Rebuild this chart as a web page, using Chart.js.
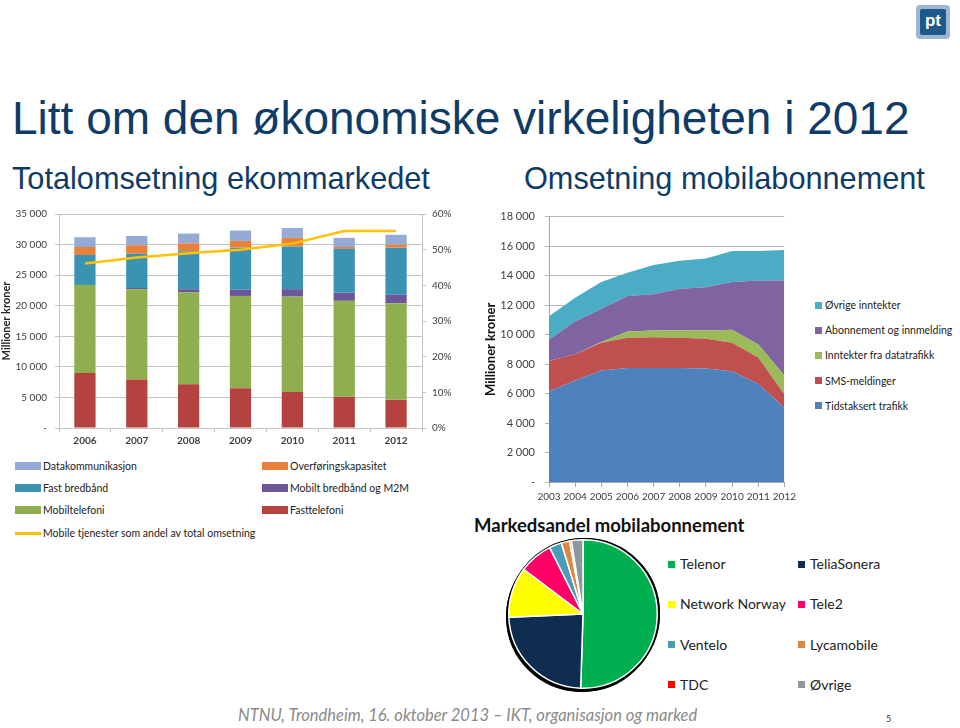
<!DOCTYPE html>
<html>
<head>
<meta charset="utf-8">
<script src="https://cdn.jsdelivr.net/npm/chart.js@4/dist/chart.umd.min.js"></script>
<style>
  body { margin: 0; background: #fff; }
  #slide { position: relative; width: 960px; height: 728px; overflow: hidden; font-family: Lato, sans-serif; color: #222; }
  .abs { position: absolute; white-space: nowrap; line-height: 1; }
  .head { font-family: 'Liberation Sans', Arial, sans-serif; color: #0f3b66; }
  canvas { position: absolute; }
  .leg { position: absolute; display: flex; align-items: center; white-space: nowrap; height: 16px; line-height: 16px; }
  .leg i { display: inline-block; flex: none; }
  #logo { position: absolute; left: 916px; top: 5px; width: 34px; height: 34px; border-radius: 4px; background: #9db6d6; }
  #logo div { position: absolute; left: 4px; top: 4px; width: 26px; height: 26px; border-radius: 2px; background: #1d5a8a;
    color: #fff; font: bold 17px 'Liberation Sans', Arial, sans-serif; text-align: center; line-height: 24px; }
</style>
</head>
<body>
<div id="slide">
  <div id="logo"><div>pt</div></div>

  <div class="abs head" style="left:12px; top:95px; font-size:46px;">Litt om den økonomiske virkeligheten i 2012</div>
  <div class="abs head" style="left:12px; top:164px; font-size:30.7px;">Totalomsetning ekommarkedet</div>
  <div class="abs head" style="left:524px; top:164px; font-size:30.7px;">Omsetning mobilabonnement</div>

  <canvas id="bars" width="460" height="250" style="left:0; top:200px;"></canvas>
  <div id="barLegend"></div>

  <canvas id="areas" width="320" height="310" style="left:480px; top:200px;"></canvas>
  <div id="areaLegend"></div>

  <div class="abs" style="left:474px; top:516px; font-size:18.5px; font-weight:bold; color:#111;">Markedsandel mobilabonnement</div>
  <canvas id="pie" width="160" height="160" style="left:503px; top:534px; filter: drop-shadow(-2px 3px 0 #000) drop-shadow(2px 0 0 #000) drop-shadow(0 -1px 0 #000);"></canvas>
  <div id="pieLegend"></div>

  <div class="abs" style="left:238px; top:707px; font-size:16.5px; font-style:italic; color:#8a8a8a;">NTNU, Trondheim, 16. oktober 2013 – IKT, organisasjon og marked</div>
  <div class="abs" style="left:886px; top:714px; font-size:9px; color:#333;">5</div>
</div>

<script>
// --- Totalomsetning ekommarkedet (millioner kroner) ---
const years = ['2006', '2007', '2008', '2009', '2010', '2011', '2012'];
const fasttelefoni = [9000, 7950, 7150, 6500, 5900, 5100, 4600];
const mobiltelefoni = [14400, 14750, 15050, 15100, 15600, 15700, 15800];
const mobiltBredband = [0, 200, 500, 1000, 1200, 1300, 1400];
const fastBredband = [4900, 5600, 6200, 6900, 7000, 7200, 7700];
const overforing = [1300, 1400, 1300, 1100, 1400, 300, 500];
const datakom = [1600, 1500, 1600, 1700, 1600, 1500, 1600];
const mobilAndel = [46.1, 47.8, 49.0, 50.0, 51.7, 55.2, 55.2]; // prosent

// --- Omsetning mobilabonnement (millioner kroner) ---
const aar = ['2003', '2004', '2005', '2006', '2007', '2008', '2009', '2010', '2011', '2012'];
const tidstaksert = [6150, 6890, 7560, 7730, 7730, 7730, 7690, 7510, 6670, 5040];
const sms = [2050, 1780, 1880, 2050, 2090, 2050, 2020, 1930, 1770, 890];
const datatrafikk = [0, 0, 60, 420, 450, 510, 560, 890, 890, 1290];
const abonnement = [1450, 2230, 2230, 2420, 2460, 2810, 2930, 3230, 4340, 6450];
const ovrigeInntekter = [1600, 1600, 1830, 1580, 1980, 1900, 1960, 2110, 2000, 2060];

// --- Markedsandel mobilabonnement (prosent) ---
const operatorer = ['Telenor', 'TeliaSonera', 'Network Norway', 'Tele2', 'Ventelo', 'Lycamobile', 'TDC', 'Øvrige'];
const andeler = [50.5, 23.8, 11.0, 7.3, 2.7, 1.8, 0.4, 2.5];
const pieColors = ['#00b050', '#0e2d50', '#ffff00', '#ff0066', '#4a9bb5', '#e0873f', '#ff0000', '#8e969e'];

Chart.defaults.font.family = "Lato, 'Liberation Sans', sans-serif";
Chart.defaults.color = '#404040';

const kr = v => v === 0 ? '-' : String(v).replace(/\B(?=(\d{3})+(?!\d))/g, ' ');
const gridGray = '#c4c4c4';

// left chart: stacked bars + share line
const barChart = new Chart(document.getElementById('bars'), {
  type: 'bar',
  data: {
    labels: years,
    datasets: [
      { type: 'line', label: 'Mobile tjenester som andel av total omsetning', data: mobilAndel, yAxisID: 'y1',
        borderColor: '#ffc000', backgroundColor: '#ffc000', borderWidth: 2.5, pointRadius: 0, order: 0 },
      { label: 'Fasttelefoni', data: fasttelefoni, backgroundColor: '#b4423f', order: 1 },
      { label: 'Mobiltelefoni', data: mobiltelefoni, backgroundColor: '#8eae4f', order: 1 },
      { label: 'Mobilt bredbånd og M2M', data: mobiltBredband, backgroundColor: '#6b5697', order: 1 },
      { label: 'Fast bredbånd', data: fastBredband, backgroundColor: '#3b93b3', order: 1 },
      { label: 'Overføringskapasitet', data: overforing, backgroundColor: '#e8823a', order: 1 },
      { label: 'Datakommunikasjon', data: datakom, backgroundColor: '#95abd6', order: 1 }
    ]
  },
  options: {
    responsive: false,
    animation: false,
    layout: { padding: { top: 12 } },
    datasets: { bar: { barPercentage: 0.41, categoryPercentage: 1 } },
    plugins: { legend: { display: false }, tooltip: { enabled: false } },
    scales: {
      x: {
        stacked: true,
        grid: { drawOnChartArea: false, tickLength: 4, color: gridGray },
        border: { color: gridGray },
        ticks: { font: { size: 10, weight: 'bold' }, padding: 3 },
        afterFit: s => { s.height = 22; }
      },
      y: {
        stacked: true, min: 0, max: 35000,
        grid: { color: gridGray, tickLength: 4 },
        border: { color: gridGray },
        ticks: { stepSize: 5000, callback: kr, font: { size: 10 }, padding: 8 },
        title: { display: true, text: 'Millioner kroner', font: { size: 11, weight: 'bold' }, color: '#222', padding: 0 },
        afterFit: s => { s.width = 59; }
      },
      y1: {
        position: 'right', min: 0, max: 60,
        grid: { drawOnChartArea: false, tickLength: 4, color: gridGray },
        border: { color: gridGray },
        ticks: { stepSize: 10, callback: v => v + '%', font: { size: 10 }, padding: 6 },
        afterFit: s => { s.width = 38; }
      }
    }
  }
});

// middle chart: stacked areas
const areaSeries = [
  ['Tidstaksert trafikk', tidstaksert, '#4f81bd'],
  ['SMS-meldinger', sms, '#c0504d'],
  ['Inntekter fra datatrafikk', datatrafikk, '#9bbb59'],
  ['Abonnement og innmelding', abonnement, '#8064a2'],
  ['Øvrige inntekter', ovrigeInntekter, '#4bacc6']
];
const areaChart = new Chart(document.getElementById('areas'), {
  type: 'line',
  data: {
    labels: aar,
    datasets: areaSeries.map(([label, data, color], i) => ({
      label, data, backgroundColor: color, borderColor: color, borderWidth: 0,
      pointRadius: 0, fill: i === 0 ? 'origin' : '-1'
    }))
  },
  options: {
    responsive: false,
    animation: false,
    layout: { padding: { top: 12, right: 14 } },
    plugins: { legend: { display: false }, tooltip: { enabled: false } },
    scales: {
      x: {
        grid: { drawOnChartArea: false, tickLength: 5, color: '#a6a6a6' },
        border: { color: '#a6a6a6' },
        ticks: { font: { size: 10 }, padding: 4, maxRotation: 0, autoSkip: false },
        afterFit: s => { s.height = 28; }
      },
      y: {
        stacked: true, min: 0, max: 18000,
        grid: { color: '#b8b8b8', tickLength: 4 },
        border: { color: '#a6a6a6' },
        ticks: { stepSize: 2000, callback: kr, font: { size: 11 }, padding: 10 },
        title: { display: true, text: 'Millioner kroner', font: { size: 13, weight: 'bold' }, color: '#111', padding: 3 },
        afterFit: s => { s.width = 69; }
      }
    }
  }
});

// pie
const pieChart = new Chart(document.getElementById('pie'), {
  type: 'pie',
  data: {
    labels: operatorer,
    datasets: [{ data: andeler, backgroundColor: pieColors, borderColor: '#fff', borderWidth: 1.5 }]
  },
  options: {
    responsive: false,
    animation: false,
    layout: { padding: 5 },
    plugins: { legend: { display: false }, tooltip: { enabled: false } }
  }
});

// html legends built from the chart data
function addLegend(holder, items) {
  const el = document.getElementById(holder);
  items.forEach(it => {
    const d = document.createElement('div');
    d.className = 'leg';
    d.style.left = it.x + 'px';
    d.style.top = (it.y - 8) + 'px';
    d.style.fontSize = it.size + 'px';
    const sw = document.createElement('i');
    sw.style.width = it.w + 'px';
    sw.style.height = it.h + 'px';
    sw.style.background = it.color;
    sw.style.marginRight = it.gap + 'px';
    d.appendChild(sw);
    d.appendChild(document.createTextNode(it.text));
    el.appendChild(d);
  });
}

const bds = barChart.data.datasets;
const byLabel = l => bds.find(d => d.label === l);
const leftOrder = [
  ['Datakommunikasjon', 15, 466], ['Overføringskapasitet', 262, 466],
  ['Fast bredbånd', 15, 488], ['Mobilt bredbånd og M2M', 262, 488],
  ['Mobiltelefoni', 15, 510], ['Fasttelefoni', 262, 510],
  ['Mobile tjenester som andel av total omsetning', 15, 533]
];
addLegend('barLegend', leftOrder.map(([l, x, y]) => {
  const ds = byLabel(l);
  const isLine = ds.type === 'line';
  return { x, y, text: l, color: ds.backgroundColor, w: 26, h: isLine ? 3 : 8, gap: 2, size: 10.5 };
}));

addLegend('areaLegend', areaChart.data.datasets.slice().reverse().map((ds, i) => ({
  x: 815, y: 305 + i * 25.2, text: ds.label, color: ds.backgroundColor, w: 7, h: 7, gap: 3, size: 10.5
})));

addLegend('pieLegend', operatorer.map((name, i) => ({
  x: i % 2 === 0 ? 668 : 798, y: 564 + Math.floor(i / 2) * 40.3, text: name, color: pieColors[i],
  w: 7, h: 7, gap: 5, size: 14
})));
</script>
</body>
</html>
